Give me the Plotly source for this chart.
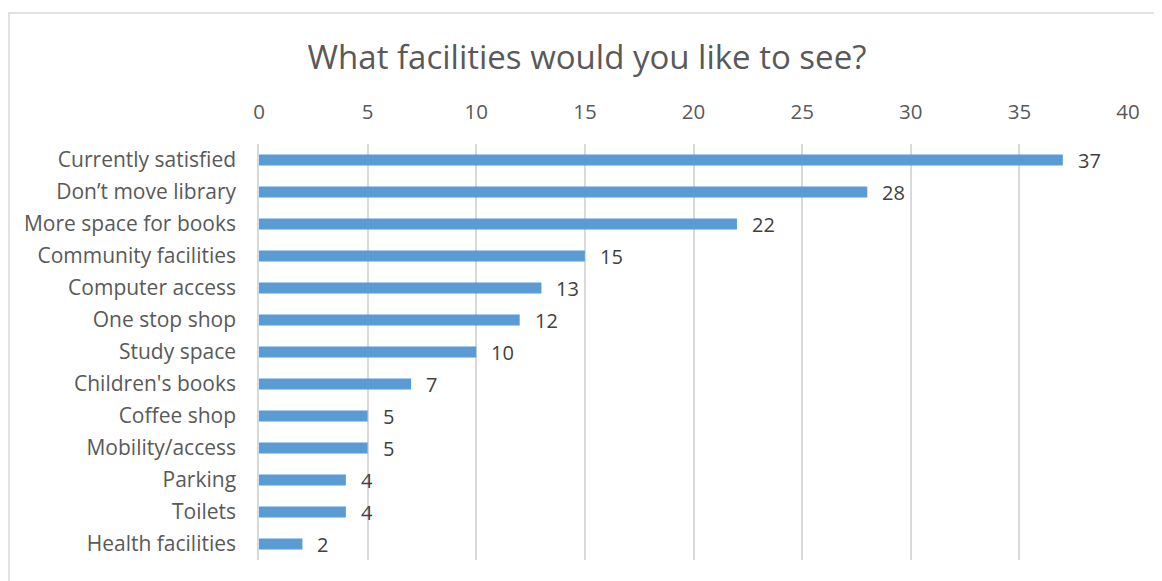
import plotly.graph_objects as go

categories = ["Currently satisfied", "Don\u2019t move library", "More space for books",
              "Community facilities", "Computer access", "One stop shop", "Study space",
              "Children's books", "Coffee shop", "Mobility/access", "Parking", "Toilets",
              "Health facilities"]
values = [37, 28, 22, 15, 13, 12, 10, 7, 5, 5, 4, 4, 2]
tick_vals = [0, 5, 10, 15, 20, 25, 30, 35, 40]
title_text = "What facilities would you like to see?"

FONT = "Open Sans"
OFF = 8  # page body margin
W, H = 1162 - OFF, 581 - OFF
ml, mr, mt, mb = 259 - OFF, 34, 144 - OFF, 21
pw = W - ml - mr
ph = H - mt - mb

fig = go.Figure()
fig.add_trace(go.Bar(
    x=values, y=categories, orientation="h",
    marker=dict(color="#5B9BD5", line=dict(width=0)),
    width=0.35,
    hoverinfo="x+y",
))

for c, v in zip(categories, values):
    fig.add_annotation(x=v, y=c, text=str(v), showarrow=False, xanchor="left",
                       xshift=13, font=dict(family=FONT, size=20, color="#404040"))

# chart border (extends past the bottom/right edge like the reference)
fig.add_shape(type="rect", xref="paper", yref="paper",
              x0=(1 - ml) / pw, x1=(W + 20 - ml) / pw,
              y0=(mt + ph - (H + 20)) / ph, y1=(mt + ph - (13 - OFF)) / ph,
              line=dict(color="#D9D9D9", width=1.5), fillcolor="rgba(0,0,0,0)",
              layer="below")

fig.update_layout(
    width=W, height=H,
    margin=dict(l=ml, r=mr, t=mt, b=mb),
    paper_bgcolor="white", plot_bgcolor="white",
    showlegend=False,
    title=dict(text=title_text, x=(587 - OFF) / W, xanchor="center",
               y=1 - (57 - OFF) / H, yanchor="middle", xref="container", yref="container",
               font=dict(family=FONT, size=33, color="#595959")),
    xaxis=dict(side="top", range=[0, 40], tickvals=tick_vals,
               showgrid=True, gridcolor="#D9D9D9", gridwidth=1.5,
               zeroline=False, showline=False, ticks="",
               tickfont=dict(family=FONT, size=20.5, color="#595959"),
               ticklabelstandoff=20, fixedrange=True),
    yaxis=dict(categoryorder="array", categoryarray=categories, autorange="reversed",
               showgrid=False, zeroline=False, showline=True, linecolor="#D9D9D9",
               linewidth=1.5, ticks="",
               tickfont=dict(family=FONT, size=21, color="#595959"),
               ticklabelstandoff=17, fixedrange=True),
)

fig.write_html("out.html")
